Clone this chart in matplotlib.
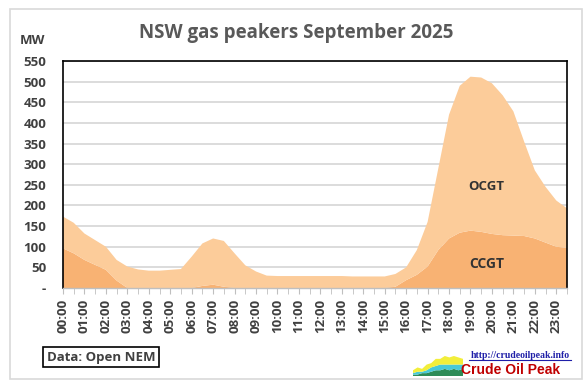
import matplotlib
matplotlib.use("Agg")
import matplotlib.pyplot as plt
from matplotlib.patches import Rectangle
import numpy as np

# Half-hourly times 00:00 .. 23:30
times = [f"{h:02d}:{m:02d}" for h in range(24) for m in (0, 30)]

# Stack total (CCGT + OCGT), MW
total = [173, 158, 132, 116, 100, 68, 52, 45, 42, 42, 44, 46,
         76, 108, 120, 114, 84, 55, 40, 30, 29, 29, 29, 29,
         29, 29, 29, 28, 28, 28, 28, 34, 50, 92, 160, 290,
         420, 490, 512, 510, 496, 467, 428, 355, 285, 245, 212, 193]
# CCGT, MW
ccgt = [96, 84, 68, 56, 44, 18, 0, 0, 0, 0, 0, 0,
        0, 5, 8, 3, 0, 0, 0, 0, 0, 0, 0, 0,
        0, 0, 0, 0, 0, 0, 0, 3, 19, 32, 52, 92,
        120, 134, 139, 136, 131, 128, 127, 126, 120, 110, 100, 97]
ocgt = [t - c for t, c in zip(total, ccgt)]

yticks = list(range(0, 551, 50))
ytick_labels = ["-"] + [str(v) for v in yticks[1:]]

# small logo data (decorative)
logo_a = [2, 3, 2, 4, 3, 5, 4, 6, 5, 6, 5, 4]
logo_b = [1, 2, 1, 2, 3, 3, 4, 3, 4, 3, 4, 3]
logo_c = [1, 1, 2, 2, 3, 4, 4, 5, 4, 5, 4, 5]

FONT = ["Open Sans", "DejaVu Sans"]
plt.rcParams['font.family'] = FONT

W, H = 588, 386
fig = plt.figure(figsize=(W / 100, H / 100), dpi=100)

# outer chart border
fig.add_artist(Rectangle((10 / W, 1 - 379 / H), 572 / W, 370 / H,
                         transform=fig.transFigure, fill=False,
                         edgecolor="#D9D9D9", linewidth=1.2))

ax = fig.add_axes([63 / W, 1 - 288 / H, 504 / W, 227 / H])
x = np.arange(len(times))
ax.stackplot(x, ccgt, ocgt, colors=["#F8B273", "#FCCC9A"], linewidth=0)
ax.set_xlim(0, len(times) - 1)
ax.set_ylim(0, 550)
ax.set_yticks(yticks)
ax.set_yticklabels(ytick_labels, fontsize=9.5, fontweight="bold", color="#404040")
ax.yaxis.grid(True, color="#D9D9D9", linewidth=1.3)
ax.set_axisbelow(True)
ax.tick_params(axis="y", length=0, pad=12)

ax.set_xticks(x[::2])
ax.set_xticklabels(times[::2], rotation=90, fontsize=9.5, fontweight="bold", color="#404040")
ax.set_xticks(x[1::2], minor=True)
ax.tick_params(axis="x", which="both", length=4, color="#BFBFBF", direction="out", pad=4)

for s in ("left", "top", "right"):
    ax.spines[s].set_color("black")
    ax.spines[s].set_linewidth(1.2)
ax.spines["bottom"].set_color("#BFBFBF")
ax.spines["bottom"].set_linewidth(1.0)

ax.text(39.5, 245, "OCGT", ha="center", va="center", fontsize=9.5,
        fontweight="bold", color="#333333")
ax.text(39.5, 58, "CCGT", ha="center", va="center", fontsize=10,
        fontweight="bold", color="#333333")

fig.text(296 / W, 1 - 33 / H, "NSW gas peakers September 2025", ha="center",
         va="center", fontsize=13.5, fontweight="bold", color="#595959")
fig.text(32 / W, 1 - 41 / H, "MW", ha="center", va="center", fontsize=9.5,
         fontweight="bold", color="#404040")

fig.text(101 / W, 1 - 357 / H, "Data: Open NEM", ha="center", va="center",
         fontsize=9.5, fontweight="bold", color="#404040",
         bbox=dict(boxstyle="square,pad=0.3", facecolor="white",
                   edgecolor="black", linewidth=1.2))

# logo
lax = fig.add_axes([413 / W, 1 - 376 / H, 50 / W, 20 / H])
lx = np.arange(len(logo_a))
lax.stackplot(lx, logo_c, logo_b, logo_a,
              colors=["#2E8B57", "#48C9D8", "#F2EE3A"], linewidth=0)
lax.set_xlim(0, len(logo_a) - 1)
lax.set_ylim(0, 14)
lax.axis("off")
fig.text(520 / W, 1 - 355 / H, "http://crudeoilpeak.info", ha="center",
         va="center", fontsize=7, fontweight="bold", color="#1F1FA8",
         family=["Liberation Serif", "DejaVu Serif"])
fig.add_artist(plt.Line2D([469 / W, 571 / W], [1 - 360 / H, 1 - 360 / H],
                          color="#1F1FA8", linewidth=0.8))
fig.text(511 / W, 1 - 370 / H, "Crude Oil Peak", ha="center", va="center",
         fontsize=10, fontweight="bold", color="#C00000",
         family=["Liberation Sans", "DejaVu Sans"])

fig.savefig("out.png", dpi=100)
